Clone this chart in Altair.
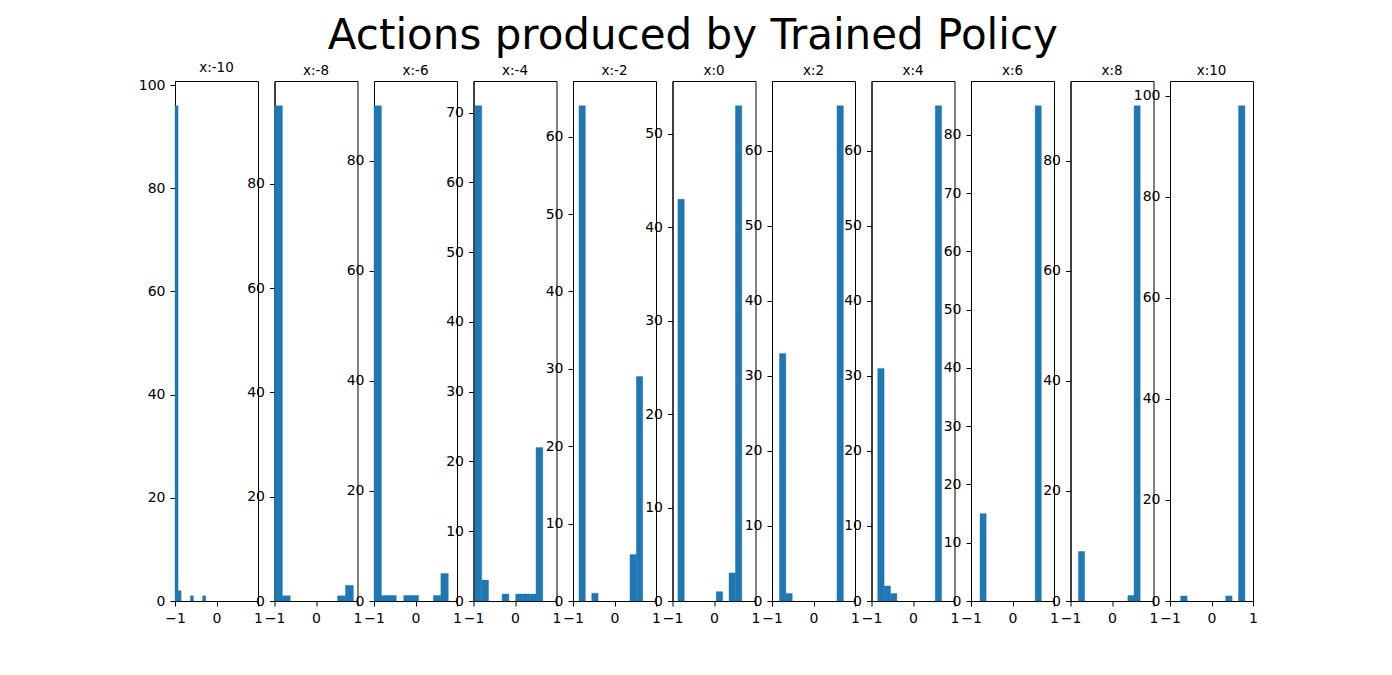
import altair as alt
import pandas as pd
import numpy as np

labels = ["x:-10", "x:-8", "x:-6", "x:-4", "x:-2", "x:0", "x:2", "x:4", "x:6", "x:8", "x:10"]
bin_min = [-1.0, -1.0, -1.0, -0.965, -0.856, -0.87, -0.82, -0.85, -0.782, -0.808, -0.742]
bin_max = [-0.26, 0.9, 0.79, 0.67, 0.68, 0.67, 0.72, 0.69, 0.694, 0.68, 0.806]
counts = [
    [96, 2, 0, 0, 0, 1, 0, 0, 0, 1],
    [95, 1, 0, 0, 0, 0, 0, 0, 1, 3],
    [90, 1, 1, 0, 1, 1, 0, 0, 1, 5],
    [71, 3, 0, 0, 1, 0, 1, 1, 1, 22],
    [64, 0, 1, 0, 0, 0, 0, 0, 6, 29],
    [43, 0, 0, 0, 0, 0, 1, 0, 3, 53],
    [33, 1, 0, 0, 0, 0, 0, 0, 0, 66],
    [31, 2, 1, 0, 0, 0, 0, 0, 0, 66],
    [15, 0, 0, 0, 0, 0, 0, 0, 0, 85],
    [9, 0, 0, 0, 0, 0, 0, 0, 1, 90],
    [1, 0, 0, 0, 0, 0, 0, 1, 0, 98],
]
y_ticks = [
    [0, 20, 40, 60, 80, 100],
    [0, 20, 40, 60, 80],
    [0, 20, 40, 60, 80],
    [0, 10, 20, 30, 40, 50, 60, 70],
    [0, 10, 20, 30, 40, 50, 60],
    [0, 10, 20, 30, 40, 50],
    [0, 10, 20, 30, 40, 50, 60],
    [0, 10, 20, 30, 40, 50, 60],
    [0, 10, 20, 30, 40, 50, 60, 70, 80],
    [0, 20, 40, 60, 80],
    [0, 20, 40, 60, 80, 100],
]
x_ticks = [-1.0, 0.0, 1.0]

BLUE = "#1f77b4"
FONT = "DejaVu Sans"

panels = []
for lab, lo, hi, cnt, yt in zip(labels, bin_min, bin_max, counts, y_ticks):
    edges = np.linspace(lo, hi, len(cnt) + 1)
    df = pd.DataFrame({"lo": edges[:-1], "hi": edges[1:], "count": cnt})
    df = df[df["count"] > 0]
    ymax = max(cnt) * 1.05
    p = (
        alt.Chart(df)
        .mark_rect(color=BLUE, stroke=BLUE, strokeWidth=0.4)
        .encode(
            x=alt.X("lo:Q", scale=alt.Scale(domain=[-1, 1], nice=False, zero=False),
                    axis=alt.Axis(values=x_ticks, title=None,
                                  labelExpr="replace(format(datum.value, 'd'), '-', '\u2212')",
                                  labelOverlap=False, labelFlush=False)),
            x2="hi:Q",
            y=alt.Y("count:Q", scale=alt.Scale(domain=[0, ymax], nice=False),
                    axis=alt.Axis(values=yt, title=None, format="d",
                                  labelOverlap=False, labelFlush=False)),
            y2=alt.datum(0),
        )
        .properties(
            width=83, height=520,
            title=alt.TitleParams(lab, fontSize=13.5, font=FONT, fontWeight="normal",
                                  color="black", offset=4, anchor="middle"),
        )
    )
    panels.append(p)

chart = (
    alt.hconcat(*panels, spacing=16.5, bounds="flush")
    .properties(
        title=alt.TitleParams("Actions produced by Trained Policy", fontSize=42, font=FONT,
                              fontWeight="normal", color="black", anchor="middle",
                              offset=2, dx=-5),
        padding={"left": 129, "top": 7, "right": 5, "bottom": 5},
    )
    .configure_view(stroke="black", strokeWidth=1)
    .configure_axis(grid=False, domainColor="black", tickColor="black", labelColor="black",
                    labelFont=FONT, labelFontSize=14, tickSize=5, labelPadding=5,
                    domainWidth=1, tickWidth=1)
)

chart.save("out.html", embed_options={"renderer": "svg", "actions": False})
